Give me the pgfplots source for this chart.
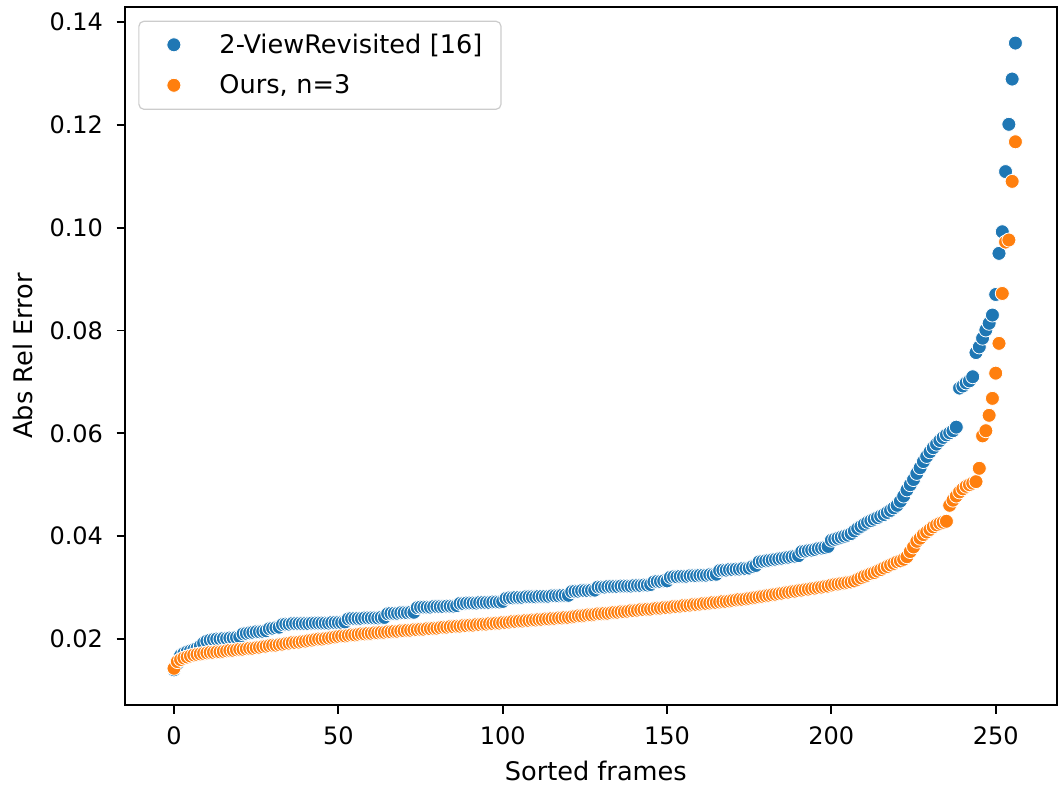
\documentclass[border=0pt]{standalone}
\usepackage{fontspec}
\setmainfont{DejaVu Sans}
\usepackage{pgfplots}
\usepackage{pgfplotstable}
\pgfplotsset{compat=1.18}
\definecolor{tabblue}{HTML}{1F77B4}
\definecolor{taborange}{HTML}{FF7F0E}
\definecolor{legedge}{HTML}{CCCCCC}

% 2-ViewRevisited [16], sorted per frame
\pgfplotstableread{
x y
0 0.0140
1 0.0152
2 0.0168
3 0.0172
4 0.0175
5 0.0177
6 0.0179
7 0.0182
8 0.0186
9 0.0192
10 0.0196
11 0.0198
12 0.0199
13 0.0200
14 0.0200
15 0.0201
16 0.0201
17 0.0202
18 0.0202
19 0.0203
20 0.0204
21 0.0210
22 0.0211
23 0.0212
24 0.0213
25 0.0214
26 0.0214
27 0.0215
28 0.0216
29 0.0220
30 0.0221
31 0.0222
32 0.0223
33 0.0228
34 0.0229
35 0.0229
36 0.0230
37 0.0230
38 0.0230
39 0.0230
40 0.0230
41 0.0230
42 0.0231
43 0.0231
44 0.0231
45 0.0231
46 0.0231
47 0.0231
48 0.0232
49 0.0232
50 0.0232
51 0.0232
52 0.0233
53 0.0239
54 0.0240
55 0.0240
56 0.0240
57 0.0240
58 0.0241
59 0.0241
60 0.0241
61 0.0241
62 0.0241
63 0.0242
64 0.0242
65 0.0249
66 0.0250
67 0.0250
68 0.0250
69 0.0251
70 0.0251
71 0.0251
72 0.0252
73 0.0252
74 0.0261
75 0.0262
76 0.0262
77 0.0262
78 0.0262
79 0.0263
80 0.0263
81 0.0263
82 0.0263
83 0.0264
84 0.0264
85 0.0264
86 0.0265
87 0.0269
88 0.0269
89 0.0270
90 0.0270
91 0.0270
92 0.0270
93 0.0271
94 0.0271
95 0.0271
96 0.0271
97 0.0272
98 0.0272
99 0.0272
100 0.0273
101 0.0279
102 0.0280
103 0.0280
104 0.0281
105 0.0281
106 0.0281
107 0.0282
108 0.0282
109 0.0282
110 0.0282
111 0.0283
112 0.0283
113 0.0283
114 0.0283
115 0.0284
116 0.0284
117 0.0284
118 0.0285
119 0.0285
120 0.0285
121 0.0292
122 0.0293
123 0.0293
124 0.0294
125 0.0294
126 0.0294
127 0.0295
128 0.0295
129 0.0301
130 0.0301
131 0.0301
132 0.0302
133 0.0302
134 0.0302
135 0.0302
136 0.0303
137 0.0303
138 0.0303
139 0.0303
140 0.0304
141 0.0304
142 0.0304
143 0.0305
144 0.0305
145 0.0306
146 0.0311
147 0.0312
148 0.0312
149 0.0313
150 0.0313
151 0.0320
152 0.0321
153 0.0321
154 0.0322
155 0.0322
156 0.0322
157 0.0323
158 0.0323
159 0.0323
160 0.0324
161 0.0324
162 0.0324
163 0.0325
164 0.0325
165 0.0326
166 0.0333
167 0.0334
168 0.0334
169 0.0335
170 0.0335
171 0.0336
172 0.0336
173 0.0337
174 0.0337
175 0.0338
176 0.0341
177 0.0343
178 0.0350
179 0.0351
180 0.0352
181 0.0353
182 0.0354
183 0.0355
184 0.0356
185 0.0357
186 0.0358
187 0.0359
188 0.0360
189 0.0361
190 0.0362
191 0.0370
192 0.0371
193 0.0372
194 0.0373
195 0.0374
196 0.0376
197 0.0377
198 0.0378
199 0.0380
200 0.0392
201 0.0394
202 0.0396
203 0.0398
204 0.0400
205 0.0402
206 0.0405
207 0.0410
208 0.0415
209 0.0419
210 0.0423
211 0.0427
212 0.0430
213 0.0433
214 0.0436
215 0.0439
216 0.0442
217 0.0446
218 0.0450
219 0.0455
220 0.0460
221 0.0468
222 0.0478
223 0.0490
224 0.0500
225 0.0510
226 0.0522
227 0.0533
228 0.0545
229 0.0555
230 0.0564
231 0.0572
232 0.0579
233 0.0586
234 0.0592
235 0.0597
236 0.0601
237 0.0605
238 0.0612
239 0.0688
240 0.0692
241 0.0698
242 0.0702
243 0.0710
244 0.0757
245 0.0768
246 0.0785
247 0.0801
248 0.0814
249 0.0830
250 0.0870
251 0.0950
252 0.0992
253 0.1109
254 0.1201
255 0.1289
256 0.1359
}\tabTwoView

% Ours, n=3
\pgfplotstableread{
x y
0 0.0143
1 0.0156
2 0.0160
3 0.0163
4 0.0165
5 0.0167
6 0.0169
7 0.0170
8 0.0171
9 0.0172
10 0.0173
11 0.0174
12 0.0174
13 0.0175
14 0.0175
15 0.0176
16 0.0177
17 0.0178
18 0.0178
19 0.0179
20 0.0180
21 0.0180
22 0.0181
23 0.0182
24 0.0182
25 0.0183
26 0.0184
27 0.0185
28 0.0186
29 0.0187
30 0.0188
31 0.0188
32 0.0189
33 0.0190
34 0.0191
35 0.0192
36 0.0193
37 0.0193
38 0.0194
39 0.0195
40 0.0196
41 0.0197
42 0.0198
43 0.0199
44 0.0200
45 0.0200
46 0.0201
47 0.0202
48 0.0203
49 0.0204
50 0.0205
51 0.0206
52 0.0206
53 0.0207
54 0.0208
55 0.0208
56 0.0209
57 0.0210
58 0.0210
59 0.0211
60 0.0211
61 0.0212
62 0.0212
63 0.0213
64 0.0213
65 0.0214
66 0.0214
67 0.0215
68 0.0215
69 0.0216
70 0.0216
71 0.0217
72 0.0217
73 0.0218
74 0.0218
75 0.0219
76 0.0219
77 0.0220
78 0.0220
79 0.0221
80 0.0221
81 0.0222
82 0.0223
83 0.0223
84 0.0224
85 0.0224
86 0.0225
87 0.0225
88 0.0226
89 0.0226
90 0.0227
91 0.0227
92 0.0228
93 0.0228
94 0.0229
95 0.0229
96 0.0230
97 0.0230
98 0.0231
99 0.0231
100 0.0232
101 0.0232
102 0.0233
103 0.0234
104 0.0234
105 0.0235
106 0.0235
107 0.0236
108 0.0236
109 0.0237
110 0.0237
111 0.0238
112 0.0238
113 0.0239
114 0.0239
115 0.0240
116 0.0240
117 0.0241
118 0.0241
119 0.0242
120 0.0242
121 0.0243
122 0.0244
123 0.0245
124 0.0245
125 0.0246
126 0.0247
127 0.0247
128 0.0248
129 0.0249
130 0.0249
131 0.0250
132 0.0250
133 0.0251
134 0.0252
135 0.0252
136 0.0253
137 0.0253
138 0.0254
139 0.0255
140 0.0255
141 0.0256
142 0.0257
143 0.0257
144 0.0258
145 0.0258
146 0.0259
147 0.0260
148 0.0260
149 0.0261
150 0.0261
151 0.0262
152 0.0263
153 0.0263
154 0.0264
155 0.0265
156 0.0265
157 0.0266
158 0.0267
159 0.0267
160 0.0268
161 0.0269
162 0.0269
163 0.0270
164 0.0271
165 0.0271
166 0.0272
167 0.0273
168 0.0273
169 0.0274
170 0.0275
171 0.0276
172 0.0277
173 0.0277
174 0.0278
175 0.0279
176 0.0280
177 0.0281
178 0.0282
179 0.0283
180 0.0284
181 0.0285
182 0.0286
183 0.0287
184 0.0288
185 0.0289
186 0.0290
187 0.0291
188 0.0292
189 0.0293
190 0.0294
191 0.0295
192 0.0296
193 0.0297
194 0.0298
195 0.0299
196 0.0300
197 0.0301
198 0.0302
199 0.0303
200 0.0305
201 0.0306
202 0.0307
203 0.0308
204 0.0309
205 0.0310
206 0.0311
207 0.0313
208 0.0316
209 0.0319
210 0.0322
211 0.0324
212 0.0327
213 0.0329
214 0.0332
215 0.0335
216 0.0338
217 0.0341
218 0.0344
219 0.0347
220 0.0350
221 0.0352
222 0.0355
223 0.0360
224 0.0370
225 0.0379
226 0.0390
227 0.0396
228 0.0403
229 0.0408
230 0.0413
231 0.0418
232 0.0422
233 0.0425
234 0.0427
235 0.0429
236 0.0460
237 0.0470
238 0.0478
239 0.0486
240 0.0492
241 0.0497
242 0.0500
243 0.0503
244 0.0506
245 0.0532
246 0.0595
247 0.0605
248 0.0635
249 0.0668
250 0.0717
251 0.0775
252 0.0872
253 0.0972
254 0.0976
255 0.1090
256 0.1167
}\tabOurs

\begin{document}
\begin{tikzpicture}
\begin{axis}[name=ax, at={(0,0)}, anchor=south west,
  scale only axis, width=465.85pt, height=349pt,
  xmin=-14.82, xmax=268.65, ymin=0.007164, ymax=0.142917,
  axis line style={line width=0.9pt},
  tick align=outside, major tick length=4.35pt,
  tick style={line width=0.9pt, black},
  xtick pos=bottom, ytick pos=left,
  xtick={0,50,100,150,200,250}, xticklabels={0,50,100,150,200,250},
  ytick={0.02,0.04,0.06,0.08,0.10,0.12,0.14},
  yticklabels={0.02,0.04,0.06,0.08,0.10,0.12,0.14},
  /pgf/number format/assume math mode=true,
  ticklabel style={font=\fontsize{12}{14}\selectfont, inner sep=0pt},
  yticklabel style={anchor=east, xshift=-6.6pt},
  xticklabel style={anchor=base, yshift=-15.6pt},
  label style={font=\fontsize{12.8}{15}\selectfont},
  xlabel={Sorted frames},
  xlabel style={font=\fontsize{12.8}{15}\selectfont,
    at={(axis description cs:0.505,-0.1075)}, anchor=base},
  ylabel={Abs Rel Error},
  ylabel style={font=\fontsize{12.8}{15}\selectfont,
    at={(axis description cs:-0.1103,0.5)}, anchor=center},
  legend cell align=left,
  legend style={at={(axis description cs:0.01395,0.98037)}, anchor=north west,
    draw=legedge, line width=0.6pt, rounded corners=2.5pt, fill=white,
    inner xsep=1.75pt, inner ysep=1.75pt, row sep=0pt,
    font=\fontsize{12.8}{15}\selectfont,
    nodes={inner sep=0pt, text height=14.15pt, text depth=5.85pt,
      text width=139pt, align=left}},
  legend image code/.code={%
    \path[draw=none, fill=none] (0pt,-10.25pt) rectangle (38.55pt,9.75pt);
    \draw[#1] plot coordinates {(15.75pt,0pt)};},
]
\addplot[only marks, mark=*, mark size=3.5pt,
  mark options={fill=tabblue, draw=white, line width=0.4pt}]
  table[x=x, y=y] {\tabTwoView};
\addlegendentry{2-ViewRevisited [16]}
\addplot[only marks, mark=*, mark size=3.5pt,
  mark options={fill=taborange, draw=white, line width=0.4pt}]
  table[x=x, y=y] {\tabOurs};
\addlegendentry{Ours, n=3}
\end{axis}
\pgfresetboundingbox
\path[use as bounding box] (-62.65pt,-40pt) rectangle (466.85pt,352.5pt);
\end{tikzpicture}
\end{document}
